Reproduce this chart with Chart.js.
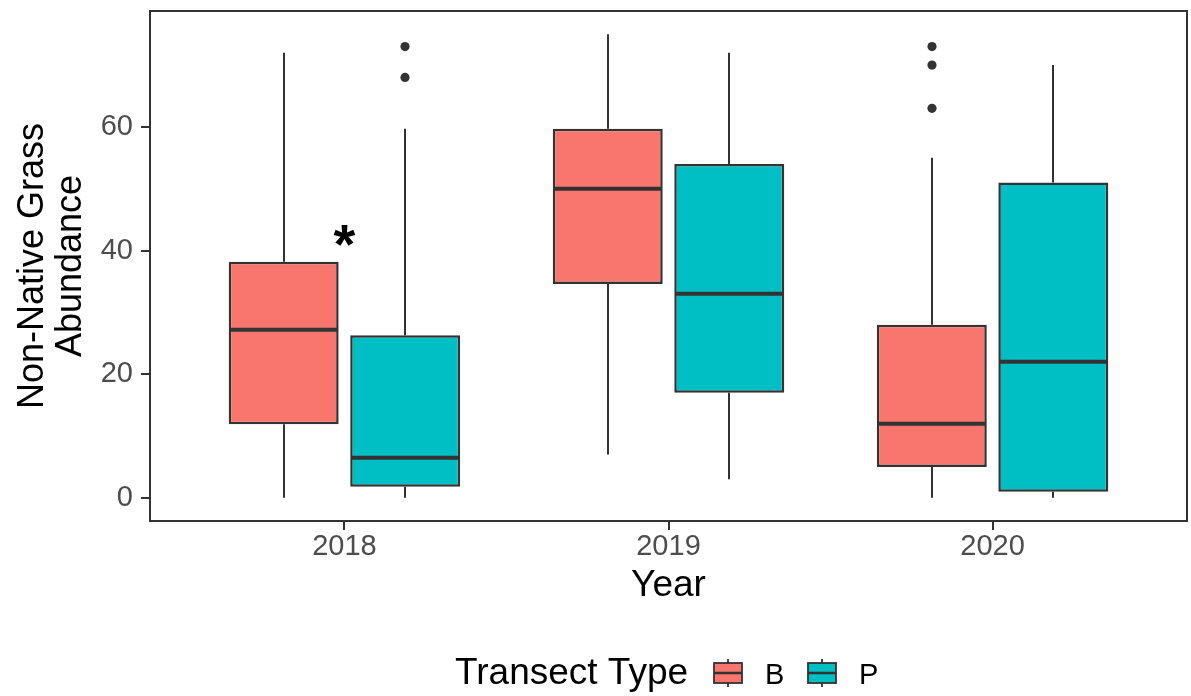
<!DOCTYPE html>
<html>
<head>
<meta charset="utf-8">
<script src="https://cdn.jsdelivr.net/npm/chart.js@4.4.1/dist/chart.umd.min.js"></script>
<style>
    html, body { margin: 0; padding: 0; background: #fff; }
    #wrap { width: 1191px; height: 696px; }
</style>
</head>
<body>
<div id="wrap"><canvas id="graficoGramineas"></canvas></div>
<script>
// categorias do eixo x
const anos = ["2018", "2019", "2020"];

// caixas por ano: [mín, q1, mediana, q3, máx]
const caixasB = [
    [0, 11.9, 27.2, 38.2, 72],
    [7, 34.6, 50, 59.7, 75],
    [0, 5, 12, 28, 55]
];
const caixasP = [
    [0, 1.8, 6.5, 26.3, 59.7],
    [3, 17, 33, 54, 72],
    [0, 1, 22, 51, 70]
];

// pontos fora dos bigodes
const outliersB = [[], [], [63, 70, 73]];
const outliersP = [[68, 73], [], []];

const yTicks = [0, 20, 40, 60];

// asterisco de significância (ano 2018)
const asteriscoAno = 1;
const asteriscoY = 42.4;

const FONTE = "'Liberation Sans', Arial, sans-serif";
const CONTORNO = "#333333";

function caixaData(caixas) {
    return caixas.map((c, i) => ({ x: i + 1, y: [c[1], c[3]] }));
}

// bigodes, medianas, outliers, borda do painel, asterisco e legenda
const boxplotExtras = {
    id: "boxplotExtras",
    afterDatasetsDraw(chart) {
        const ctx = chart.ctx;
        const y = chart.scales.y;
        const x = chart.scales.x;
        const area = chart.chartArea;

        ctx.save();
        chart.data.datasets.forEach((ds, di) => {
            const meta = chart.getDatasetMeta(di);
            meta.data.forEach((bar, i) => {
                const [mn, q1, md, q3, mx] = ds.stats[i];
                const cx = Math.round(bar.x);
                const half = bar.width / 2;

                ctx.strokeStyle = CONTORNO;
                ctx.lineWidth = 2;
                ctx.beginPath();
                ctx.moveTo(cx, y.getPixelForValue(q3));
                ctx.lineTo(cx, y.getPixelForValue(mx));
                ctx.moveTo(cx, y.getPixelForValue(q1));
                ctx.lineTo(cx, y.getPixelForValue(mn));
                ctx.stroke();

                ctx.lineWidth = 4;
                ctx.beginPath();
                ctx.moveTo(bar.x - half + 1, y.getPixelForValue(md));
                ctx.lineTo(bar.x + half - 1, y.getPixelForValue(md));
                ctx.stroke();

                ctx.fillStyle = CONTORNO;
                ds.outliers[i].forEach(v => {
                    ctx.beginPath();
                    ctx.arc(cx, y.getPixelForValue(v), 4.6, 0, Math.PI * 2);
                    ctx.fill();
                });
            });
        });

        // borda do painel
        ctx.strokeStyle = CONTORNO;
        ctx.lineWidth = 2;
        ctx.strokeRect(area.left, area.top, area.right - area.left, area.bottom - area.top);

        // asterisco
        ctx.fillStyle = "#000";
        ctx.font = "bold 56px " + FONTE;
        ctx.textAlign = "center";
        ctx.textBaseline = "alphabetic";
        const m = ctx.measureText("*");
        const meio = (m.actualBoundingBoxAscent - m.actualBoundingBoxDescent) / 2;
        ctx.fillText("*", x.getPixelForValue(asteriscoAno), y.getPixelForValue(asteriscoY) + meio);
        ctx.restore();
    },
    afterDraw(chart) {
        const ctx = chart.ctx;
        ctx.save();
        ctx.fillStyle = "#000";
        ctx.textAlign = "left";
        ctx.textBaseline = "alphabetic";
        ctx.font = "37px " + FONTE;
        ctx.fillText("Transect Type", 455, 684);

        const chaves = [714, 808];
        chart.data.datasets.forEach((ds, di) => {
            const kx = chaves[di];
            const w = 28;
            ctx.strokeStyle = CONTORNO;
            ctx.lineWidth = 1.8;
            ctx.beginPath();
            ctx.moveTo(kx + w / 2, 659);
            ctx.lineTo(kx + w / 2, 687);
            ctx.stroke();
            ctx.fillStyle = ds.backgroundColor;
            ctx.fillRect(kx, 663, w, 20);
            ctx.strokeRect(kx, 663, w, 20);
            ctx.lineWidth = 2.5;
            ctx.beginPath();
            ctx.moveTo(kx, 673);
            ctx.lineTo(kx + w, 673);
            ctx.stroke();

            ctx.fillStyle = "#000";
            ctx.font = "29px " + FONTE;
            ctx.fillText(ds.label, kx + 51, 684);
        });
        ctx.restore();
    }
};

// só as marquinhas por fora do painel, sem grade
const eixoGrid = {
    display: true,
    drawOnChartArea: false,
    drawTicks: true,
    offset: false,
    tickLength: 9,
    color: CONTORNO,
    lineWidth: 2
};

new Chart(document.getElementById("graficoGramineas"), {
    type: "bar",
    data: {
        datasets: [
            {
                label: "B",
                data: caixaData(caixasB),
                stats: caixasB,
                outliers: outliersB,
                backgroundColor: "#F8766D",
                borderColor: CONTORNO,
                borderWidth: 2.5,
                borderSkipped: false
            },
            {
                label: "P",
                data: caixaData(caixasP),
                stats: caixasP,
                outliers: outliersP,
                backgroundColor: "#00BFC4",
                borderColor: CONTORNO,
                borderWidth: 2.5,
                borderSkipped: false
            }
        ]
    },
    options: {
        responsive: true,
        maintainAspectRatio: false,
        animation: false,
        categoryPercentage: 0.75,
        barPercentage: 0.905,
        layout: { padding: { top: 11, right: 4, bottom: 0, left: 0 } },
        plugins: {
            legend: { display: false },
            tooltip: { enabled: false }
        },
        scales: {
            x: {
                type: "linear",
                min: 0.4,
                max: 3.6,
                offset: false,
                afterBuildTicks: s => { s.ticks = anos.map((a, i) => ({ value: i + 1 })); },
                afterFit: s => {
                    s.height = 175;
                    s.paddingLeft = 0;
                    s.paddingRight = 0;
                },
                ticks: {
                    callback: v => anos[v - 1],
                    color: "#4D4D4D",
                    font: { size: 29, family: FONTE },
                    padding: 0,
                    autoSkip: false,
                    maxRotation: 0
                },
                grid: eixoGrid,
                border: { display: false },
                title: {
                    display: true,
                    text: "Year",
                    color: "#000",
                    font: { size: 37, family: FONTE, lineHeight: 1 },
                    padding: { top: 0, bottom: 92 }
                }
            },
            y: {
                min: -3.75,
                max: 78.75,
                afterBuildTicks: s => { s.ticks = yTicks.map(v => ({ value: v })); },
                afterFit: s => {
                    s.width = 150;
                    s.paddingTop = 0;
                    s.paddingBottom = 0;
                },
                ticks: {
                    color: "#4D4D4D",
                    font: { size: 29, family: FONTE },
                    padding: 8
                },
                grid: eixoGrid,
                border: { display: false },
                title: {
                    display: true,
                    text: ["Non-Native Grass", "Abundance"],
                    color: "#000",
                    font: { size: 36, family: FONTE, lineHeight: 1.05 },
                    padding: { top: 14, bottom: 0 }
                }
            }
        }
    },
    plugins: [boxplotExtras]
});
</script>
</body>
</html>
